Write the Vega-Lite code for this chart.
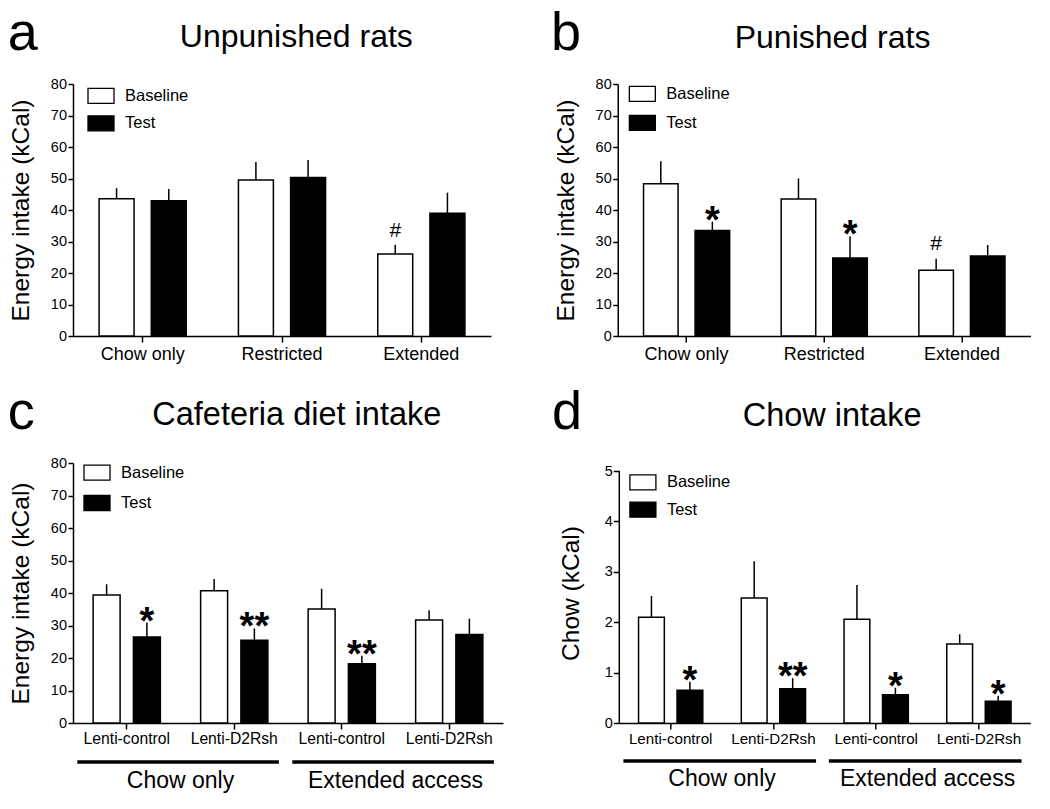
{
  "$schema": "https://vega.github.io/schema/vega-lite/v6.json",
  "padding": {"left": 7, "top": 6, "right": 0, "bottom": 0},
  "spacing": 21,
  "datasets": {
    "a": [
      {"condition": "Chow only", "phase": "Baseline", "mean": 43.6, "upper": 46.9, "sig": ""},
      {"condition": "Chow only", "phase": "Test", "mean": 42.9, "upper": 46.7, "sig": ""},
      {"condition": "Restricted", "phase": "Baseline", "mean": 49.5, "upper": 55.2, "sig": ""},
      {"condition": "Restricted", "phase": "Test", "mean": 50.3, "upper": 55.9, "sig": ""},
      {"condition": "Extended", "phase": "Baseline", "mean": 26.0, "upper": 29.0, "sig": "#"},
      {"condition": "Extended", "phase": "Test", "mean": 39.0, "upper": 45.5, "sig": ""}
    ],
    "b": [
      {"condition": "Chow only", "phase": "Baseline", "mean": 48.3, "upper": 55.5, "sig": ""},
      {"condition": "Chow only", "phase": "Test", "mean": 33.5, "upper": 36.3, "sig": "*"},
      {"condition": "Restricted", "phase": "Baseline", "mean": 43.5, "upper": 50.0, "sig": ""},
      {"condition": "Restricted", "phase": "Test", "mean": 24.8, "upper": 31.7, "sig": "*"},
      {"condition": "Extended", "phase": "Baseline", "mean": 20.9, "upper": 24.5, "sig": "#"},
      {"condition": "Extended", "phase": "Test", "mean": 25.4, "upper": 28.9, "sig": ""}
    ],
    "c": [
      {"condition": "Chow only / Lenti-control", "phase": "Baseline", "mean": 39.4, "upper": 42.7, "sig": ""},
      {"condition": "Chow only / Lenti-control", "phase": "Test", "mean": 26.5, "upper": 30.9, "sig": "*"},
      {"condition": "Chow only / Lenti-D2Rsh", "phase": "Baseline", "mean": 40.7, "upper": 44.3, "sig": ""},
      {"condition": "Chow only / Lenti-D2Rsh", "phase": "Test", "mean": 25.5, "upper": 29.1, "sig": "**"},
      {"condition": "Extended access / Lenti-control", "phase": "Baseline", "mean": 35.1, "upper": 41.3, "sig": ""},
      {"condition": "Extended access / Lenti-control", "phase": "Test", "mean": 18.2, "upper": 20.7, "sig": "**"},
      {"condition": "Extended access / Lenti-D2Rsh", "phase": "Baseline", "mean": 31.7, "upper": 34.7, "sig": ""},
      {"condition": "Extended access / Lenti-D2Rsh", "phase": "Test", "mean": 27.2, "upper": 32.1, "sig": ""}
    ],
    "d": [
      {"condition": "Chow only / Lenti-control", "phase": "Baseline", "mean": 2.10, "upper": 2.52, "sig": ""},
      {"condition": "Chow only / Lenti-control", "phase": "Test", "mean": 0.65, "upper": 0.82, "sig": "*"},
      {"condition": "Chow only / Lenti-D2Rsh", "phase": "Baseline", "mean": 2.48, "upper": 3.21, "sig": ""},
      {"condition": "Chow only / Lenti-D2Rsh", "phase": "Test", "mean": 0.68, "upper": 0.89, "sig": "**"},
      {"condition": "Extended access / Lenti-control", "phase": "Baseline", "mean": 2.06, "upper": 2.74, "sig": ""},
      {"condition": "Extended access / Lenti-control", "phase": "Test", "mean": 0.56, "upper": 0.70, "sig": "*"},
      {"condition": "Extended access / Lenti-D2Rsh", "phase": "Baseline", "mean": 1.57, "upper": 1.76, "sig": ""},
      {"condition": "Extended access / Lenti-D2Rsh", "phase": "Test", "mean": 0.43, "upper": 0.54, "sig": "*"}
    ],
    "groups": [
      {"condition": "Chow only / Lenti-control", "condition_end": "Chow only / Lenti-D2Rsh", "label": "Chow only"},
      {"condition": "Extended access / Lenti-control", "condition_end": "Extended access / Lenti-D2Rsh", "label": "Extended access"}
    ],
    "yaxis": [
      {"condition": "Chow only / Lenti-control", "from": 0, "to": 5}
    ]
  },
  "resolve": {"scale": {"fill": "independent", "xOffset": "independent"}},
  "vconcat": [
    {
      "spacing": 58.75,
      "resolve": {"scale": {"fill": "independent", "xOffset": "independent"}},
      "hconcat": [
        {
          "width": 418, "height": 252,
          "data": {"name": "a"},
          "resolve": {"axis": {"y": "independent"}},
          "encoding": {
            "x": {"field": "condition", "type": "nominal", "scale": {"domain": ["Chow only", "Restricted", "Extended"], "paddingInner": 0, "paddingOuter": 0},
              "axis": {"title": "Unpunished rats", "titleX": 222.8, "titleY": -289.3, "titleAlign": "center", "titleBaseline": "alphabetic", "titleFontSize": 32, "labelAngle": 0, "labelFontSize": 18, "tickSize": 6, "labelPadding": 3.7, "labelOverlap": false}}
          },
          "layer": [
            {"mark": {"type": "bar", "stroke": "black", "strokeWidth": 1.5},
             "encoding": {
               "xOffset": {"field": "phase", "type": "nominal", "sort": ["Baseline", "Test"], "scale": {"paddingInner": 0.33, "paddingOuter": 0.5}},
               "y": {"field": "mean", "type": "quantitative", "scale": {"domain": [0, 80]}, "axis": {"title": "Energy intake (kCal)", "values": [0, 10, 20, 30, 40, 50, 60, 70, 80], "tickSize": 5, "labelPadding": 1.5, "labelFontSize": 14.5, "titleFontSize": 24.5, "titlePadding": 17.1}},
               "fill": {"field": "phase", "type": "nominal", "scale": {"domain": ["Baseline", "Test"], "range": ["white", "black"]},
                 "legend": {"orient": "none", "legendX": 14, "legendY": -2.2, "title": null, "rowPadding": 2.5}}
             }},
            {"mark": {"type": "rule", "strokeWidth": 1.5, "color": "black"},
             "encoding": {
               "xOffset": {"field": "phase", "type": "nominal", "sort": ["Baseline", "Test"], "scale": {"paddingInner": 0.33, "paddingOuter": 0.5}},
               "y": {"field": "mean", "type": "quantitative", "scale": {"domain": [0, 80]}, "axis": {"orient": "right", "title": "a", "labels": false, "ticks": false, "domain": false, "titleAngle": 0, "titleX": -483.7, "titleY": -35, "titleAlign": "left", "titleBaseline": "alphabetic", "titleFontSize": 54}},
               "y2": {"field": "upper"}
             }},
            {"transform": [{"filter": "datum.sig == '#'"}],
             "mark": {"type": "text", "fontSize": 21, "baseline": "alphabetic", "align": "center", "dy": -8},
             "encoding": {
               "xOffset": {"field": "phase", "type": "nominal", "sort": ["Baseline", "Test"], "scale": {"paddingInner": 0.33, "paddingOuter": 0.5}},
               "y": {"field": "upper", "type": "quantitative", "scale": {"domain": [0, 80]}, "axis": null},
               "text": {"field": "sig"}
             }}
          ]
        },
        {
          "width": 413, "height": 252,
          "data": {"name": "b"},
          "resolve": {"axis": {"y": "independent"}},
          "encoding": {
            "x": {"field": "condition", "type": "nominal", "scale": {"domain": ["Chow only", "Restricted", "Extended"], "paddingInner": 0, "paddingOuter": 0},
              "axis": {"title": "Punished rats", "titleX": 214.3, "titleY": -289, "titleAlign": "center", "titleBaseline": "alphabetic", "titleFontSize": 32, "labelAngle": 0, "labelFontSize": 18, "tickSize": 6, "labelPadding": 3.7, "labelOverlap": false}}
          },
          "layer": [
            {"mark": {"type": "bar", "stroke": "black", "strokeWidth": 1.5},
             "encoding": {
               "xOffset": {"field": "phase", "type": "nominal", "sort": ["Baseline", "Test"], "scale": {"paddingInner": 0.33, "paddingOuter": 0.5}},
               "y": {"field": "mean", "type": "quantitative", "scale": {"domain": [0, 80]}, "axis": {"title": "Energy intake (kCal)", "values": [0, 10, 20, 30, 40, 50, 60, 70, 80], "tickSize": 5, "labelPadding": 1.5, "labelFontSize": 14.5, "titleFontSize": 24.5, "titlePadding": 17.1}},
               "fill": {"field": "phase", "type": "nominal", "scale": {"domain": ["Baseline", "Test"], "range": ["white", "black"]},
                 "legend": {"orient": "none", "legendX": 10.6, "legendY": -4.2, "title": null, "rowPadding": 4}}
             }},
            {"mark": {"type": "rule", "strokeWidth": 1.5, "color": "black"},
             "encoding": {
               "xOffset": {"field": "phase", "type": "nominal", "sort": ["Baseline", "Test"], "scale": {"paddingInner": 0.33, "paddingOuter": 0.5}},
               "y": {"field": "mean", "type": "quantitative", "scale": {"domain": [0, 80]}, "axis": {"orient": "right", "title": "b", "labels": false, "ticks": false, "domain": false, "titleAngle": 0, "titleX": -480.2, "titleY": -35, "titleAlign": "left", "titleBaseline": "alphabetic", "titleFontSize": 54}},
               "y2": {"field": "upper"}
             }},
            {"transform": [{"filter": "datum.sig == '#'"}],
             "mark": {"type": "text", "fontSize": 21, "baseline": "alphabetic", "align": "center", "dy": -9},
             "encoding": {
               "xOffset": {"field": "phase", "type": "nominal", "sort": ["Baseline", "Test"], "scale": {"paddingInner": 0.33, "paddingOuter": 0.5}},
               "y": {"field": "upper", "type": "quantitative", "scale": {"domain": [0, 80]}, "axis": null},
               "text": {"field": "sig"}
             }},
            {"transform": [{"filter": "datum.sig == '*' || datum.sig == '**'"}],
             "mark": {"type": "text", "fontSize": 38, "fontWeight": "bold", "baseline": "alphabetic", "align": "center", "dy": 11},
             "encoding": {
               "xOffset": {"field": "phase", "type": "nominal", "sort": ["Baseline", "Test"], "scale": {"paddingInner": 0.33, "paddingOuter": 0.5}},
               "y": {"field": "upper", "type": "quantitative", "scale": {"domain": [0, 80]}, "axis": null},
               "text": {"field": "sig"}
             }}
          ]
        }
      ]
    },
    {
      "spacing": 48.3,
      "resolve": {"scale": {"fill": "independent", "xOffset": "independent"}},
      "hconcat": [
        {
          "width": 430, "height": 260,
          "data": {"name": "c"},
          "resolve": {"axis": {"y": "independent"}},
          "layer": [
            {"mark": {"type": "bar", "stroke": "black", "strokeWidth": 1.5},
             "encoding": {
               "x": {"field": "condition", "type": "nominal", "scale": {"domain": ["Chow only / Lenti-control", "Chow only / Lenti-D2Rsh", "Extended access / Lenti-control", "Extended access / Lenti-D2Rsh"], "paddingInner": 0, "paddingOuter": 0},
                 "axis": {"title": "Cafeteria diet intake", "titleX": 223.3, "titleY": -298.7, "titleAlign": "center", "titleBaseline": "alphabetic", "titleFontSize": 32.5, "labelAngle": 0, "labelFontSize": 15.7, "tickSize": 6, "labelPadding": 2.3, "labelOverlap": false, "labelExpr": "split(datum.label, ' / ')[1]"}},
               "xOffset": {"field": "phase", "type": "nominal", "sort": ["Baseline", "Test"], "scale": {"paddingInner": 0.33, "paddingOuter": 0.5}},
               "y": {"field": "mean", "type": "quantitative", "scale": {"domain": [0, 80]}, "axis": {"title": "Energy intake (kCal)", "values": [0, 10, 20, 30, 40, 50, 60, 70, 80], "tickSize": 5, "labelPadding": 1.5, "labelFontSize": 14.5, "titleFontSize": 24.5, "titlePadding": 17.1}},
               "fill": {"field": "phase", "type": "nominal", "scale": {"domain": ["Baseline", "Test"], "range": ["white", "black"]},
                 "legend": {"orient": "none", "legendX": 10, "legendY": -4.3, "title": null, "rowPadding": 5.3}}
             }},
            {"mark": {"type": "rule", "strokeWidth": 1.5, "color": "black"},
             "encoding": {
               "x": {"field": "condition", "type": "nominal", "scale": {"domain": ["Chow only / Lenti-control", "Chow only / Lenti-D2Rsh", "Extended access / Lenti-control", "Extended access / Lenti-D2Rsh"], "paddingInner": 0, "paddingOuter": 0},
                 "axis": {"title": "Cafeteria diet intake", "titleX": 223.3, "titleY": -298.7, "titleAlign": "center", "titleBaseline": "alphabetic", "titleFontSize": 32.5, "labelAngle": 0, "labelFontSize": 15.7, "tickSize": 6, "labelPadding": 2.3, "labelOverlap": false, "labelExpr": "split(datum.label, ' / ')[1]"}},
               "xOffset": {"field": "phase", "type": "nominal", "sort": ["Baseline", "Test"], "scale": {"paddingInner": 0.33, "paddingOuter": 0.5}},
               "y": {"field": "mean", "type": "quantitative", "scale": {"domain": [0, 80]}, "axis": {"orient": "right", "title": "c", "labels": false, "ticks": false, "domain": false, "titleAngle": 0, "titleX": -495.7, "titleY": -35, "titleAlign": "left", "titleBaseline": "alphabetic", "titleFontSize": 54}},
               "y2": {"field": "upper"}
             }},
            {"transform": [{"filter": "datum.sig == '*' || datum.sig == '**'"}],
             "mark": {"type": "text", "fontSize": 38, "fontWeight": "bold", "baseline": "alphabetic", "align": "center", "dy": 11},
             "encoding": {
               "x": {"field": "condition", "type": "nominal", "scale": {"domain": ["Chow only / Lenti-control", "Chow only / Lenti-D2Rsh", "Extended access / Lenti-control", "Extended access / Lenti-D2Rsh"], "paddingInner": 0, "paddingOuter": 0},
                 "axis": {"title": "Cafeteria diet intake", "titleX": 223.3, "titleY": -298.7, "titleAlign": "center", "titleBaseline": "alphabetic", "titleFontSize": 32.5, "labelAngle": 0, "labelFontSize": 15.7, "tickSize": 6, "labelPadding": 2.3, "labelOverlap": false, "labelExpr": "split(datum.label, ' / ')[1]"}},
               "xOffset": {"field": "phase", "type": "nominal", "sort": ["Baseline", "Test"], "scale": {"paddingInner": 0.33, "paddingOuter": 0.5}},
               "y": {"field": "upper", "type": "quantitative", "scale": {"domain": [0, 80]}, "axis": null},
               "text": {"field": "sig"}
             }},
            {"data": {"name": "groups"},
             "mark": {"type": "rule", "strokeWidth": 3.3, "color": "black"},
             "encoding": {
               "x": {"field": "condition", "type": "nominal", "bandPosition": 0.04, "scale": {"domain": ["Chow only / Lenti-control", "Chow only / Lenti-D2Rsh", "Extended access / Lenti-control", "Extended access / Lenti-D2Rsh"], "paddingInner": 0, "paddingOuter": 0},
                 "axis": {"title": "Cafeteria diet intake", "titleX": 223.3, "titleY": -298.7, "titleAlign": "center", "titleBaseline": "alphabetic", "titleFontSize": 32.5, "labelAngle": 0, "labelFontSize": 15.7, "tickSize": 6, "labelPadding": 2.3, "labelOverlap": false, "labelExpr": "split(datum.label, ' / ')[1]"}},
               "x2": {"field": "condition_end", "bandPosition": 0.915},
               "y": {"datum": -12.0, "type": "quantitative", "scale": {"domain": [0, 80]}, "axis": null}
             }},
            {"data": {"name": "groups"},
             "mark": {"type": "text", "fontSize": 23, "baseline": "alphabetic", "align": "center"},
             "encoding": {
               "x": {"field": "condition", "type": "nominal", "bandPosition": 1, "scale": {"domain": ["Chow only / Lenti-control", "Chow only / Lenti-D2Rsh", "Extended access / Lenti-control", "Extended access / Lenti-D2Rsh"], "paddingInner": 0, "paddingOuter": 0},
                 "axis": {"title": "Cafeteria diet intake", "titleX": 223.3, "titleY": -298.7, "titleAlign": "center", "titleBaseline": "alphabetic", "titleFontSize": 32.5, "labelAngle": 0, "labelFontSize": 15.7, "tickSize": 6, "labelPadding": 2.3, "labelOverlap": false, "labelExpr": "split(datum.label, ' / ')[1]"}},
               "y": {"datum": -19.9, "type": "quantitative", "scale": {"domain": [0, 80]}, "axis": null},
               "text": {"field": "label"}
             }}
          ]
        },
        {
          "width": 411, "height": 260,
          "data": {"name": "d"},
          "resolve": {"axis": {"y": "independent"}},
          "layer": [
            {"mark": {"type": "bar", "stroke": "black", "strokeWidth": 1.5},
             "encoding": {
               "x": {"field": "condition", "type": "nominal", "scale": {"domain": ["Chow only / Lenti-control", "Chow only / Lenti-D2Rsh", "Extended access / Lenti-control", "Extended access / Lenti-D2Rsh"], "paddingInner": 0, "paddingOuter": 0},
                 "axis": {"title": "Chow intake", "titleX": 212.3, "titleY": -297.7, "titleAlign": "center", "titleBaseline": "alphabetic", "titleFontSize": 32.5, "labelAngle": 0, "labelFontSize": 15.2, "tickSize": 6, "labelPadding": 2.3, "labelOverlap": false, "labelExpr": "split(datum.label, ' / ')[1]"}},
               "xOffset": {"field": "phase", "type": "nominal", "sort": ["Baseline", "Test"], "scale": {"paddingInner": 0.33, "paddingOuter": 0.5}},
               "y": {"field": "mean", "type": "quantitative", "scale": {"domain": [0, 5.159]}, "axis": {"title": "Chow (kCal)", "values": [0, 1, 2, 3, 4, 5], "domain": false, "tickSize": 6, "labelPadding": 1, "labelFontSize": 14.5, "titleFontSize": 24.5, "titlePadding": 20.3}},
               "fill": {"field": "phase", "type": "nominal", "scale": {"domain": ["Baseline", "Test"], "range": ["white", "black"]},
                 "legend": {"orient": "none", "legendX": 9.6, "legendY": 5.4, "title": null, "rowPadding": 2.3}}
             }},
            {"data": {"name": "yaxis"},
             "mark": {"type": "rule", "strokeWidth": 1.5, "color": "black"},
             "encoding": {
               "x": {"field": "condition", "type": "nominal", "bandPosition": 0, "scale": {"domain": ["Chow only / Lenti-control", "Chow only / Lenti-D2Rsh", "Extended access / Lenti-control", "Extended access / Lenti-D2Rsh"], "paddingInner": 0, "paddingOuter": 0},
                 "axis": {"title": "Chow intake", "titleX": 212.3, "titleY": -297.7, "titleAlign": "center", "titleBaseline": "alphabetic", "titleFontSize": 32.5, "labelAngle": 0, "labelFontSize": 15.2, "tickSize": 6, "labelPadding": 2.3, "labelOverlap": false, "labelExpr": "split(datum.label, ' / ')[1]"}},
               "y": {"field": "from", "type": "quantitative", "scale": {"domain": [0, 5.159]}, "axis": null},
               "y2": {"field": "to"}
             }},
            {"mark": {"type": "rule", "strokeWidth": 1.5, "color": "black"},
             "encoding": {
               "x": {"field": "condition", "type": "nominal", "scale": {"domain": ["Chow only / Lenti-control", "Chow only / Lenti-D2Rsh", "Extended access / Lenti-control", "Extended access / Lenti-D2Rsh"], "paddingInner": 0, "paddingOuter": 0},
                 "axis": {"title": "Chow intake", "titleX": 212.3, "titleY": -297.7, "titleAlign": "center", "titleBaseline": "alphabetic", "titleFontSize": 32.5, "labelAngle": 0, "labelFontSize": 15.2, "tickSize": 6, "labelPadding": 2.3, "labelOverlap": false, "labelExpr": "split(datum.label, ' / ')[1]"}},
               "xOffset": {"field": "phase", "type": "nominal", "sort": ["Baseline", "Test"], "scale": {"paddingInner": 0.33, "paddingOuter": 0.5}},
               "y": {"field": "mean", "type": "quantitative", "scale": {"domain": [0, 5.159]}, "axis": {"orient": "right", "title": "d", "labels": false, "ticks": false, "domain": false, "titleAngle": 0, "titleX": -478.7, "titleY": -35, "titleAlign": "left", "titleBaseline": "alphabetic", "titleFontSize": 54}},
               "y2": {"field": "upper"}
             }},
            {"transform": [{"filter": "datum.sig == '*' || datum.sig == '**'"}],
             "mark": {"type": "text", "fontSize": 38, "fontWeight": "bold", "baseline": "alphabetic", "align": "center", "dy": 11},
             "encoding": {
               "x": {"field": "condition", "type": "nominal", "scale": {"domain": ["Chow only / Lenti-control", "Chow only / Lenti-D2Rsh", "Extended access / Lenti-control", "Extended access / Lenti-D2Rsh"], "paddingInner": 0, "paddingOuter": 0},
                 "axis": {"title": "Chow intake", "titleX": 212.3, "titleY": -297.7, "titleAlign": "center", "titleBaseline": "alphabetic", "titleFontSize": 32.5, "labelAngle": 0, "labelFontSize": 15.2, "tickSize": 6, "labelPadding": 2.3, "labelOverlap": false, "labelExpr": "split(datum.label, ' / ')[1]"}},
               "xOffset": {"field": "phase", "type": "nominal", "sort": ["Baseline", "Test"], "scale": {"paddingInner": 0.33, "paddingOuter": 0.5}},
               "y": {"field": "upper", "type": "quantitative", "scale": {"domain": [0, 5.159]}, "axis": null},
               "text": {"field": "sig"}
             }},
            {"data": {"name": "groups"},
             "mark": {"type": "rule", "strokeWidth": 3.3, "color": "black"},
             "encoding": {
               "x": {"field": "condition", "type": "nominal", "bandPosition": 0.04, "scale": {"domain": ["Chow only / Lenti-control", "Chow only / Lenti-D2Rsh", "Extended access / Lenti-control", "Extended access / Lenti-D2Rsh"], "paddingInner": 0, "paddingOuter": 0},
                 "axis": {"title": "Chow intake", "titleX": 212.3, "titleY": -297.7, "titleAlign": "center", "titleBaseline": "alphabetic", "titleFontSize": 32.5, "labelAngle": 0, "labelFontSize": 15.2, "tickSize": 6, "labelPadding": 2.3, "labelOverlap": false, "labelExpr": "split(datum.label, ' / ')[1]"}},
               "x2": {"field": "condition_end", "bandPosition": 0.915},
               "y": {"datum": -0.754, "type": "quantitative", "scale": {"domain": [0, 5.159]}, "axis": null}
             }},
            {"data": {"name": "groups"},
             "mark": {"type": "text", "fontSize": 23, "baseline": "alphabetic", "align": "center"},
             "encoding": {
               "x": {"field": "condition", "type": "nominal", "bandPosition": 1, "scale": {"domain": ["Chow only / Lenti-control", "Chow only / Lenti-D2Rsh", "Extended access / Lenti-control", "Extended access / Lenti-D2Rsh"], "paddingInner": 0, "paddingOuter": 0},
                 "axis": {"title": "Chow intake", "titleX": 212.3, "titleY": -297.7, "titleAlign": "center", "titleBaseline": "alphabetic", "titleFontSize": 32.5, "labelAngle": 0, "labelFontSize": 15.2, "tickSize": 6, "labelPadding": 2.3, "labelOverlap": false, "labelExpr": "split(datum.label, ' / ')[1]"}},
               "y": {"datum": -1.25, "type": "quantitative", "scale": {"domain": [0, 5.159]}, "axis": null},
               "text": {"field": "label"}
             }}
          ]
        }
      ]
    }
  ],
  "config": {
    "font": "Liberation Sans",
    "view": {"stroke": null},
    "axis": {"domainColor": "black", "domainWidth": 1.5, "tickColor": "black", "tickWidth": 1.5, "labelColor": "black", "titleColor": "black", "titleFontWeight": "normal", "grid": false},
    "legend": {"padding": 0, "symbolType": "M-1,-0.577L1,-0.577L1,0.577L-1,0.577Z", "symbolSize": 676, "symbolStrokeColor": "black", "symbolStrokeWidth": 1.3, "labelFontSize": 16.5, "labelColor": "black", "labelOffset": 10},
    "text": {"color": "black"}
  }
}
